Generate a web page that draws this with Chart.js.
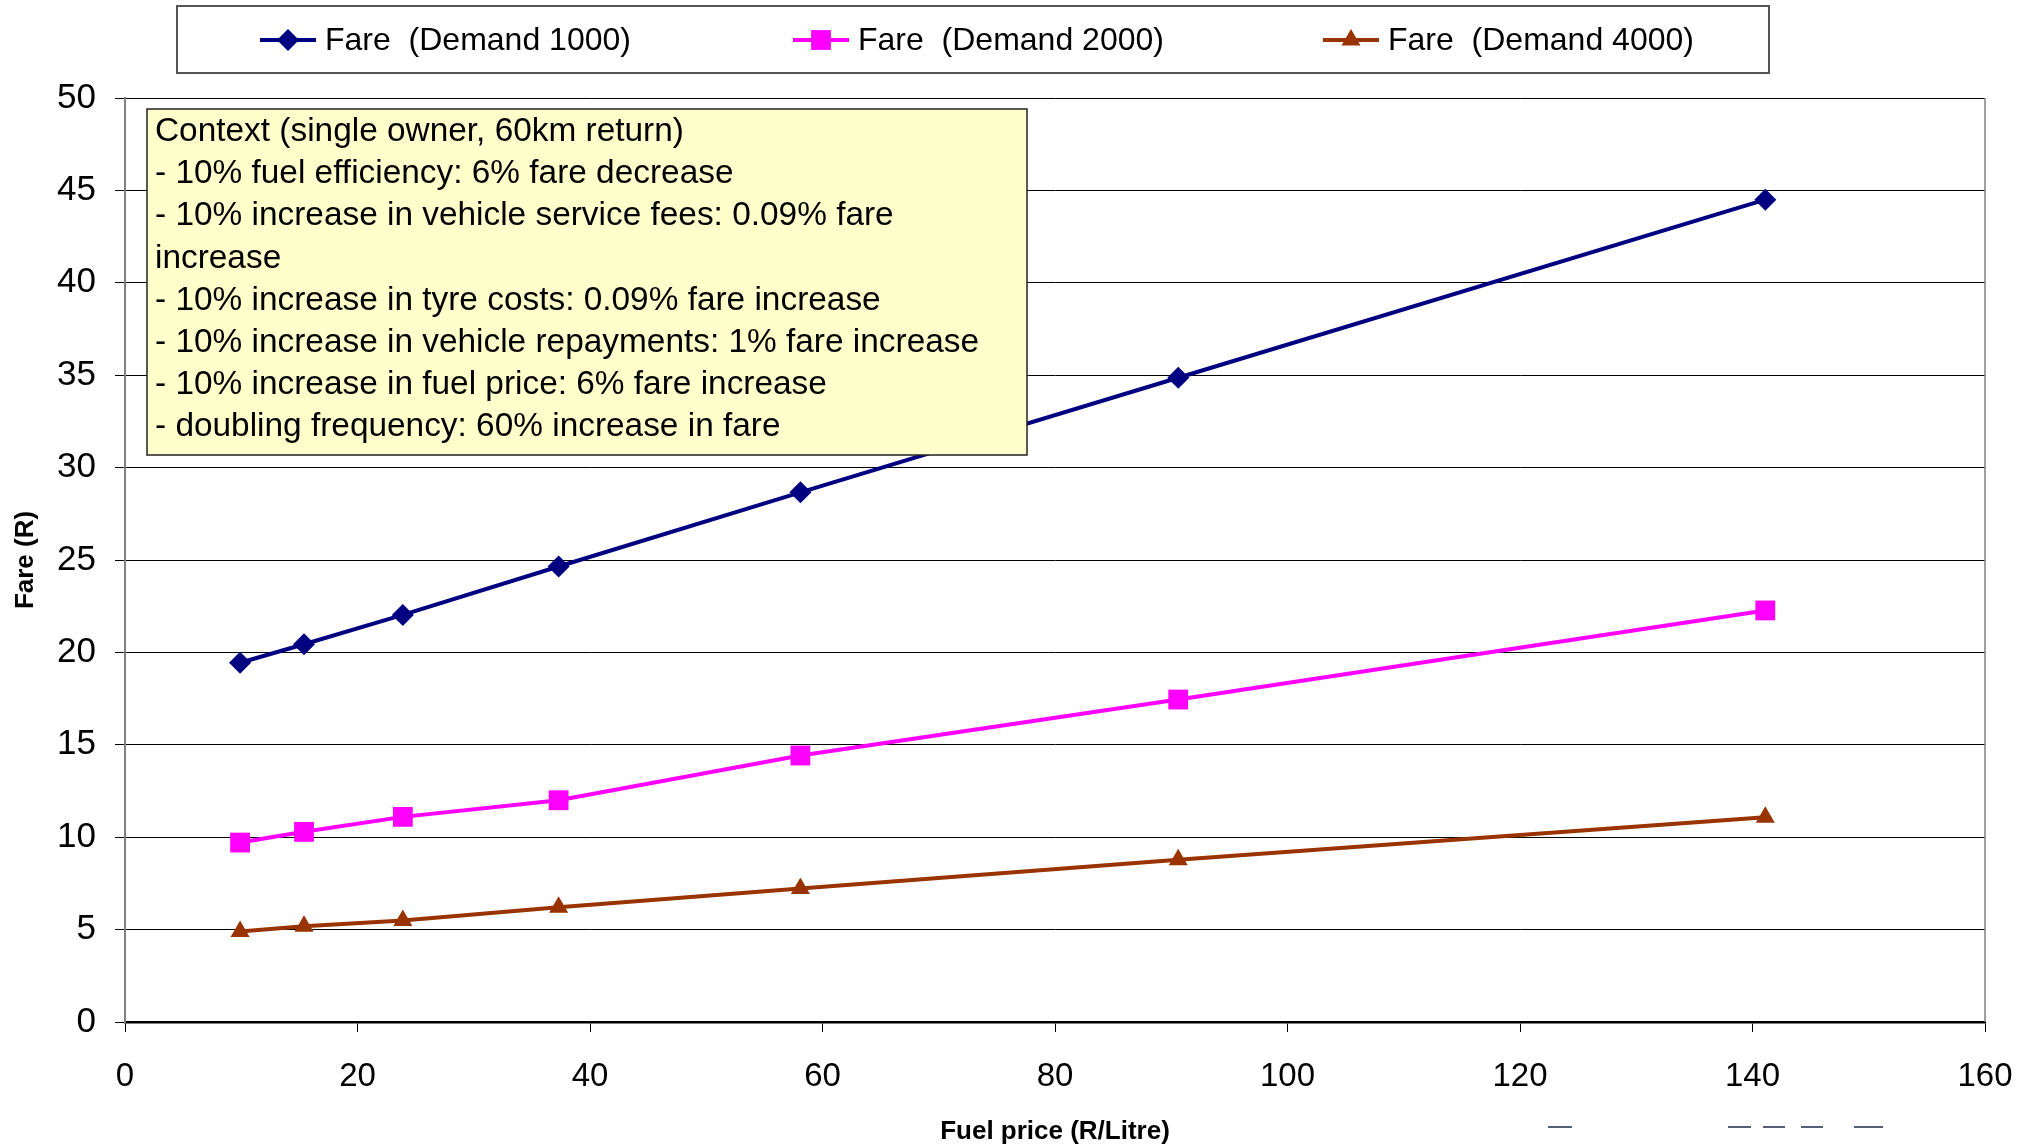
<!DOCTYPE html>
<html>
<head>
<meta charset="utf-8">
<script src="https://cdn.jsdelivr.net/npm/chart.js@4/dist/chart.umd.min.js"></script>
<style>
  body { margin: 0; background: #fff; }
  #wrap { width: 2038px; height: 1147px; }
</style>
</head>
<body>
<div id="wrap"><canvas id="fareChart" width="2038" height="1147"></canvas></div>
<script>
// DATA

const fuelPrice = [9.9, 15.4, 23.9, 37.3, 58.1, 90.6, 141.1];
const fareDemand1000 = [19.44, 20.44, 22.03, 24.65, 28.66, 34.86, 44.5];
const fareDemand2000 = [9.71, 10.29, 11.1, 12.0, 14.42, 17.45, 22.27];
const fareDemand4000 = [4.9, 5.18, 5.49, 6.21, 7.22, 8.78, 11.08];

const seriesLabels = ['Fare  (Demand 1000)', 'Fare  (Demand 2000)', 'Fare  (Demand 4000)'];
const seriesColors = ['#000080', '#FF00FF', '#993300'];
const seriesMarkers = ['rectRot', 'rect', 'triangle'];
const seriesRadius = [11, 14, 11];

const noteLines = [
    'Context (single owner, 60km return)',
    '- 10% fuel efficiency: 6% fare decrease',
    '- 10% increase in vehicle service fees: 0.09% fare',
    'increase',
    '- 10% increase in tyre costs: 0.09% fare increase',
    '- 10% increase in vehicle repayments: 1% fare increase',
    '- 10% increase in fuel price: 6% fare increase',
    '- doubling frequency: 60% increase in fare'
];

const FONT = '"Liberation Sans", Arial, sans-serif';

function toPoints(ys) {
    return fuelPrice.map((x, i) => ({ x: x, y: ys[i] }));
}

const seriesValues = [fareDemand1000, fareDemand2000, fareDemand4000];

// small shape helper for the legend markers
function drawMarker(ctx, style, x, y, r) {
    ctx.beginPath();
    if (style === 'rectRot') {
        ctx.moveTo(x - r, y);
        ctx.lineTo(x, y - r);
        ctx.lineTo(x + r, y);
        ctx.lineTo(x, y + r);
    } else if (style === 'rect') {
        const s = r * Math.SQRT1_2;
        ctx.rect(x - s, y - s, 2 * s, 2 * s);
    } else {
        ctx.moveTo(x, y - r);
        ctx.lineTo(x + r * 0.866, y + r / 2);
        ctx.lineTo(x - r * 0.866, y + r / 2);
    }
    ctx.closePath();
    ctx.fill();
}

// note box, plot border, legend
const extras = {
    id: 'extras',
    afterDatasetsDraw(chart) {
        const ctx = chart.ctx;
        const area = chart.chartArea;
        ctx.save();

        // right border of plot
        ctx.strokeStyle = '#808080';
        ctx.lineWidth = 1.5;
        ctx.beginPath();
        ctx.moveTo(area.right, area.top);
        ctx.lineTo(area.right, area.bottom);
        ctx.stroke();

        // note box
        ctx.fillStyle = '#FFFFCC';
        ctx.fillRect(147, 109, 880, 346);
        ctx.strokeStyle = '#222';
        ctx.lineWidth = 1.5;
        ctx.strokeRect(147, 109, 880, 346);
        ctx.fillStyle = '#000';
        ctx.font = '33.4px ' + FONT;
        ctx.textBaseline = 'middle';
        ctx.textAlign = 'left';
        noteLines.forEach((t, i) => ctx.fillText(t, 155, 132 + i * 42.1));
        ctx.restore();
    },
    afterDraw(chart) {
        const ctx = chart.ctx;
        ctx.save();

        // legend
        ctx.fillStyle = '#fff';
        ctx.fillRect(177, 6, 1592, 67);
        ctx.strokeStyle = '#555';
        ctx.lineWidth = 2;
        ctx.strokeRect(177, 6, 1592, 67);
        const starts = [260, 793, 1323];
        ctx.font = '32px ' + FONT;
        ctx.textBaseline = 'middle';
        ctx.textAlign = 'left';
        chart.data.datasets.forEach((ds, i) => {
            const x0 = starts[i];
            ctx.strokeStyle = ds.borderColor;
            ctx.lineWidth = 4;
            ctx.beginPath();
            ctx.moveTo(x0, 40);
            ctx.lineTo(x0 + 56, 40);
            ctx.stroke();
            ctx.fillStyle = ds.borderColor;
            drawMarker(ctx, seriesMarkers[i], x0 + 28, 40, seriesRadius[i]);
            ctx.fillStyle = '#000';
            ctx.fillText(ds.label, x0 + 65, 41);
        });

        // stray dashes at the bottom right
        ctx.strokeStyle = '#1c2a4a';
        ctx.lineWidth = 1.5;
        [[1548, 1572], [1728, 1751], [1763, 1785], [1801, 1823], [1854, 1883]].forEach(d => {
            ctx.beginPath();
            ctx.moveTo(d[0], 1127);
            ctx.lineTo(d[1], 1127);
            ctx.stroke();
        });
        ctx.restore();
    }
};

new Chart(document.getElementById('fareChart'), {
    type: 'scatter',
    data: {
        datasets: seriesValues.map((vals, i) => ({
            label: seriesLabels[i],
            data: toPoints(vals),
            showLine: true,
            borderColor: seriesColors[i],
            backgroundColor: seriesColors[i],
            borderWidth: 4,
            pointStyle: seriesMarkers[i],
            pointRadius: seriesRadius[i],
            pointBorderWidth: 0,
            pointHoverRadius: seriesRadius[i],
            tension: 0
        }))
    },
    options: {
        responsive: false,
        animation: false,
        layout: { padding: { top: 98, right: 53, left: 0, bottom: 0 } },
        plugins: {
            legend: { display: false },
            tooltip: { enabled: false }
        },
        scales: {
            x: {
                type: 'linear',
                min: 0,
                max: 160,
                afterFit(scale) { scale.height = 125; },
                ticks: {
                    stepSize: 20,
                    color: '#000',
                    padding: 25,
                    maxRotation: 0,
                    font: { family: FONT, size: 33 }
                },
                grid: {
                    drawOnChartArea: false,
                    drawTicks: true,
                    tickLength: 10,
                    color: '#000'
                },
                border: { color: '#000', width: 2.5 },
                title: {
                    display: true,
                    text: 'Fuel price (R/Litre)',
                    color: '#000',
                    padding: { top: 0, bottom: 0 },
                    font: { family: FONT, size: 26, weight: 'bold' }
                }
            },
            y: {
                min: 0,
                max: 50,
                afterFit(scale) { scale.width = 125; },
                ticks: {
                    stepSize: 5,
                    color: '#000',
                    padding: 19,
                    font: { family: FONT, size: 35 }
                },
                grid: {
                    color: '#000',
                    lineWidth: 1,
                    tickLength: 10
                },
                border: { color: '#808080', width: 2 },
                title: {
                    display: true,
                    text: 'Fare (R)',
                    color: '#000',
                    padding: { top: 10, bottom: 0 },
                    font: { family: FONT, size: 26, weight: 'bold' }
                }
            }
        }
    },
    plugins: [extras]
});
</script>
</body>
</html>
